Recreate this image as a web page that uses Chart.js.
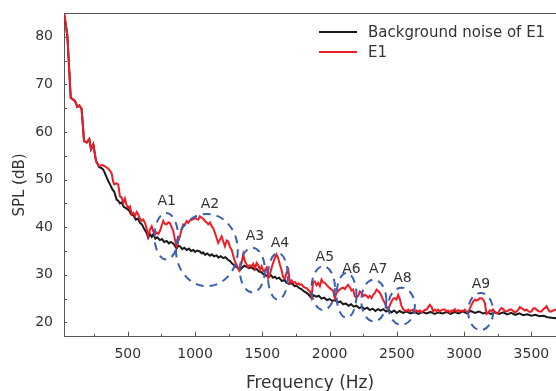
<!DOCTYPE html>
<html>
<head>
<meta charset="utf-8">
<script src="https://cdn.jsdelivr.net/npm/chart.js@4/dist/chart.umd.min.js"></script>
<style>
  html, body { margin: 0; padding: 0; background: #fff; }
  #wrap { width: 556px; height: 391px; }
</style>
</head>
<body>
<div id="wrap"><canvas id="splChart" width="556" height="391"></canvas></div>
<script>
'use strict';

// [Hz, dB]
const noisePts = [
  [26,85],[40,82.5],[51,80.2],[65,73],[76,67.2],[95,66.8],[108,66.5],[125,65.3],[140,65.6],[157,64.8],
  [175,58.1],[195,57.8],[214,58.5],[227,56.4],[244,57.4],[264,53.9],[288,52.6],[305,52.4],[318,52.1],[335,51.0],
  [355,49.7],[370,48.9],[385,48.0],[400,47.4],[417,45.8],[430,45.5],[442,45.0],[455,45.2],[470,44.3],[492,43.9],
  [510,43.5],[525,42.7],[541,42.5],[560,41.6],[575,41.8],[591,40.9],[605,40.6],[620,39.8],[640,38.8],[652,37.8],
  [665,38.6],[678,38.0],[689,38.5],[705,37.6],[720,37.9],[739,37.3],[755,37.5],[770,36.9],[789,37.1],[805,36.6],
  [820,36.9],[838,36.6],[850,36.1],[863,35.5],[875,36.1],[888,36.0],[905,35.4],[920,35.7],[938,35.2],[955,35.5],
  [970,35.0],[987,35.2],[1000,34.8],[1015,35.1],[1036,34.9],[1050,34.5],[1061,34.7],[1075,34.2],[1090,34.5],[1111,34.0],
  [1125,34.3],[1140,33.9],[1160,34.1],[1175,33.6],[1190,33.9],[1210,33.5],[1225,33.7],[1247,33.1],[1260,32.9],[1275,32.4],
  [1290,32.0],[1310,31.6],[1334,31.0],[1350,31.5],[1365,31.9],[1383,31.7],[1400,31.4],[1420,31.6],[1440,31.1],[1458,31.2],
  [1475,30.7],[1490,30.6],[1510,30.1],[1532,29.8],[1550,29.6],[1565,29.9],[1580,29.4],[1595,29.6],[1606,29.2],[1625,29.4],
  [1645,28.7],[1665,28.9],[1681,28.3],[1700,28.1],[1720,28.2],[1740,27.6],[1755,27.7],[1775,27.2],[1790,27.0],[1810,26.5],
  [1829,26.2],[1845,25.8],[1866,25.1],[1880,25.7],[1903,25.4],[1920,25.6],[1940,25.0],[1960,25.2],[1980,24.7],[2002,24.9],
  [2020,24.5],[2040,24.7],[2060,24.2],[2080,24.4],[2101,23.8],[2120,24.0],[2140,23.5],[2160,23.8],[2180,23.3],[2200,23.5],
  [2220,23.0],[2240,23.3],[2260,22.8],[2280,23.1],[2299,22.6],[2320,22.9],[2340,22.4],[2360,22.8],[2380,22.5],[2398,22.8],
  [2420,22.3],[2440,22.6],[2460,22.1],[2480,22.5],[2500,22.0],[2520,22.4],[2547,22.0],[2570,22.3],[2600,21.9],[2630,22.2],
  [2660,21.8],[2690,22.2],[2720,21.9],[2750,22.2],[2780,21.8],[2810,22.1],[2840,21.9],[2870,22.2],[2900,21.8],[2930,22.2],
  [2960,21.9],[2990,22.3],[3020,21.9],[3050,22.4],[3080,22.0],[3110,22.3],[3140,21.9],[3170,22.1],[3200,21.8],[3230,22.1],
  [3260,21.8],[3290,22.1],[3320,21.7],[3350,22.0],[3380,21.6],[3410,21.9],[3440,21.5],[3470,21.7],[3500,21.4],[3530,21.6],
  [3560,21.3],[3590,21.4],[3620,21.1],[3650,21.0],[3683,20.9]
];

const e1Pts = [
  [26,85],[40,82.5],[51,80.2],[65,73],[76,67.2],[95,66.8],[108,66.5],[125,65.3],[140,65.6],[157,64.8],
  [175,58.1],[195,57.8],[214,58.5],[227,56.4],[244,57.4],[264,53.9],[288,52.8],[305,53.0],[318,53.0],[340,52.6],
  [355,52.3],[370,51.8],[380,51.3],[392,49.5],[400,49.0],[415,49.2],[429,49.0],[442,46.5],[455,46.2],[467,45.1],
  [479,46.0],[492,44.6],[504,44.1],[516,44.4],[529,42.7],[541,43.0],[553,42.3],[566,43.2],[578,42.7],[591,41.8],
  [603,41.3],[615,41.6],[628,40.9],[640,39.8],[652,38.1],[665,39.5],[678,40.2],[690,39.1],[702,38.5],[715,38.9],
  [727,38.6],[739,39.2],[752,40.3],[764,41.3],[776,40.7],[789,40.6],[801,41.0],[813,40.9],[826,40.0],[838,39.2],
  [850,37.5],[863,36.0],[875,37.0],[888,38.1],[900,39.5],[912,40.6],[925,40.5],[938,41.3],[950,40.9],[962,41.4],
  [975,41.6],[987,41.6],[999,42.0],[1012,41.7],[1024,41.6],[1036,42.3],[1049,42.0],[1061,41.8],[1074,41.3],[1086,41.0],
  [1098,40.6],[1111,41.0],[1123,40.2],[1135,39.8],[1148,38.8],[1160,37.8],[1172,36.7],[1185,37.4],[1198,38.1],[1210,37.0],
  [1222,36.0],[1235,37.2],[1247,37.0],[1260,35.8],[1272,35.3],[1284,34.0],[1296,32.8],[1310,32.0],[1328,30.9],[1346,32.5],
  [1358,34.3],[1371,32.8],[1383,32.2],[1395,31.6],[1408,32.0],[1420,31.8],[1433,32.3],[1445,31.3],[1458,32.5],[1470,32.0],
  [1482,31.1],[1495,31.8],[1507,30.8],[1520,31.0],[1532,31.5],[1544,29.3],[1556,30.0],[1569,31.5],[1581,32.5],[1594,33.6],
  [1606,34.3],[1618,33.5],[1631,32.1],[1643,31.0],[1655,29.5],[1668,29.2],[1681,30.5],[1693,31.1],[1705,28.3],[1718,28.8],
  [1730,28.3],[1743,28.5],[1755,28.0],[1768,28.2],[1780,27.9],[1792,28.0],[1805,27.5],[1817,27.3],[1829,27.2],[1842,26.8],
  [1854,26.5],[1866,25.3],[1878,28.6],[1891,28.6],[1903,27.8],[1915,28.3],[1928,27.6],[1940,29.0],[1953,28.4],[1965,28.3],
  [1978,27.9],[1990,27.5],[2002,27.2],[2015,26.9],[2027,26.6],[2039,25.1],[2051,26.2],[2064,26.6],[2076,26.9],[2089,27.2],
  [2101,27.3],[2113,27.0],[2126,27.5],[2138,27.9],[2150,27.4],[2163,26.7],[2175,26.9],[2188,25.5],[2200,25.3],[2214,25.6],
  [2225,26.5],[2238,26.2],[2250,25.5],[2262,25.8],[2275,25.6],[2287,25.2],[2299,25.6],[2312,25.1],[2324,25.8],[2337,26.2],
  [2349,26.9],[2361,26.6],[2374,26.2],[2386,25.5],[2398,24.8],[2411,24.0],[2423,23.2],[2435,22.7],[2448,23.6],[2461,24.4],
  [2473,25.0],[2485,25.1],[2497,24.8],[2510,25.8],[2522,24.9],[2535,23.4],[2547,22.8],[2560,22.5],[2572,22.4],[2585,22.7],
  [2597,22.3],[2610,22.6],[2621,22.7],[2634,22.2],[2646,22.5],[2658,22.3],[2671,22.5],[2683,22.1],[2696,22.4],[2708,22.6],
  [2721,22.7],[2733,23.2],[2745,23.7],[2758,23.3],[2770,22.3],[2782,22.7],[2795,22.4],[2807,22.7],[2819,22.3],[2832,22.6],
  [2844,22.7],[2857,22.7],[2869,22.3],[2881,22.5],[2894,22.1],[2906,22.5],[2919,22.4],[2931,22.8],[2943,22.3],[2956,22.6],
  [2968,22.3],[2980,22.5],[2993,22.4],[3005,22.7],[3017,22.3],[3030,22.0],[3042,22.9],[3055,23.7],[3067,24.4],[3080,24.8],
  [3092,24.6],[3105,24.8],[3117,25.1],[3130,25.1],[3141,24.8],[3154,24.1],[3166,21.8],[3178,22.0],[3191,22.5],[3203,22.4],
  [3215,22.7],[3228,22.2],[3240,21.9],[3252,22.0],[3265,22.6],[3278,23.0],[3290,22.8],[3303,22.4],[3315,22.3],[3327,22.5],
  [3340,22.7],[3352,22.7],[3364,22.4],[3377,22.1],[3389,22.3],[3401,22.6],[3414,23.2],[3426,23.0],[3438,22.8],[3451,22.5],
  [3463,22.7],[3476,22.4],[3488,22.2],[3501,22.3],[3513,22.9],[3525,23.0],[3538,22.7],[3550,22.4],[3562,22.3],[3575,22.3],
  [3587,22.7],[3600,23.0],[3612,23.4],[3624,22.8],[3637,22.3],[3649,22.3],[3661,22.5],[3683,22.7]
];

const xTicks = [500, 1000, 1500, 2000, 2500, 3000, 3500];
const yTicks = [20, 30, 40, 50, 60, 70, 80];

// dashed ellipses round the peaks (centre Hz/dB, half widths in Hz/dB)
const markNames = ['A1', 'A2', 'A3', 'A4', 'A5', 'A6', 'A7', 'A8', 'A9'];
const markHz    = [786, 1088, 1426, 1616, 1953, 2126, 2329, 2535, 3123];
const markDb    = [38.1, 35.2, 31.0, 29.7, 27.2, 25.7, 24.6, 23.4, 22.3];
const markRxHz  = [87, 230, 93, 74, 87, 74, 93, 99, 93];
const markRyDb  = [4.9, 7.6, 4.7, 4.9, 4.6, 4.7, 4.4, 3.9, 3.9];
const labelHz   = [789, 1111, 1445, 1631, 1965, 2163, 2361, 2542, 3125];
const labelDb   = [45.5, 44.7, 38.1, 36.7, 33.6, 31.1, 31.1, 29.3, 28.1];

const FONT = '"DejaVu Sans", Arial, sans-serif';
const TEXT = '#333';
const AXIS = '#555';

const decorPlugin = {
  id: 'decor',
  afterDatasetsDraw(chart) {
    const { ctx, chartArea: a, scales: { x, y } } = chart;
    ctx.save();

    // top frame
    ctx.strokeStyle = AXIS; ctx.lineWidth = 1;
    ctx.beginPath(); ctx.moveTo(a.left, a.top + 0.5); ctx.lineTo(a.right, a.top + 0.5); ctx.stroke();

    // inward ticks
    ctx.beginPath();
    for (let v = 250; v <= 3500; v += 250) {
      const px = Math.round(x.getPixelForValue(v)) + 0.5;
      const len = v % 500 === 0 ? 5 : 3;
      ctx.moveTo(px, a.bottom); ctx.lineTo(px, a.bottom - len);
    }
    for (let v = 20; v <= 85; v += 5) {
      const py = Math.round(y.getPixelForValue(v)) + 0.5;
      ctx.moveTo(a.left, py); ctx.lineTo(a.left + 3, py);
    }
    ctx.stroke();

    // A1..A9 ellipses
    ctx.strokeStyle = '#3a5fb3'; ctx.lineWidth = 2; ctx.setLineDash([8, 6]);
    markNames.forEach((n, i) => {
      const cx = x.getPixelForValue(markHz[i]);
      const cy = y.getPixelForValue(markDb[i]);
      const rx = x.getPixelForValue(markHz[i] + markRxHz[i]) - cx;
      const ry = cy - y.getPixelForValue(markDb[i] + markRyDb[i]);
      ctx.beginPath(); ctx.ellipse(cx, cy, rx, ry, 0, 0, Math.PI * 2); ctx.stroke();
    });
    ctx.setLineDash([]);

    ctx.fillStyle = TEXT;
    ctx.font = '14px ' + FONT;
    ctx.textAlign = 'center'; ctx.textBaseline = 'middle';
    markNames.forEach((n, i) => {
      ctx.fillText(n, x.getPixelForValue(labelHz[i]), y.getPixelForValue(labelDb[i]));
    });

    // legend
    const items = chart.data.datasets.map(d => ({ label: d.label, color: d.borderColor }));
    ctx.textAlign = 'left';
    ctx.font = '15px ' + FONT;
    items.forEach((it, i) => {
      const ly = 32 + i * 20;
      ctx.strokeStyle = it.color; ctx.lineWidth = 2;
      ctx.beginPath(); ctx.moveTo(319, ly); ctx.lineTo(357, ly); ctx.stroke();
      ctx.fillText(it.label, 368, ly + 1);
    });

    // axis titles
    ctx.font = '17px ' + FONT;
    ctx.textAlign = 'center';
    ctx.fillText('Frequency (Hz)', (a.left + a.right) / 2, 384);
    ctx.save();
    ctx.translate(20, 185); ctx.rotate(-Math.PI / 2);
    ctx.font = '15px ' + FONT;
    ctx.fillText('SPL (dB)', 0, 0);
    ctx.restore();

    ctx.restore();
  },
};

new Chart(document.getElementById('splChart'), {
  type: 'line',
  data: {
    datasets: [{
      label: 'Background noise of E1',
      data: noisePts.map(p => ({ x: p[0], y: p[1] })),
      borderColor: '#1a1a1a',
      borderWidth: 2,
      pointRadius: 0,
      tension: 0,
      order: 2,
    }, {
      label: 'E1',
      data: e1Pts.map(p => ({ x: p[0], y: p[1] })),
      borderColor: '#ee1c24',
      borderWidth: 2,
      pointRadius: 0,
      tension: 0,
      order: 1,
    }],
  },
  options: {
    responsive: false,
    animation: false,
    layout: { padding: { top: 13, right: 0, left: 0, bottom: 0 } },
    plugins: { legend: { display: false }, tooltip: { enabled: false } },
    scales: {
      x: {
        type: 'linear', min: 26, max: 3683,
        afterBuildTicks: s => { s.ticks = xTicks.map(v => ({ value: v })); },
        afterFit: s => { s.height = 54.3; s.paddingLeft = 0; s.paddingRight = 0; },
        grid: { drawOnChartArea: false, drawTicks: false },
        border: { display: true, color: AXIS, width: 1 },
        ticks: { color: TEXT, font: { family: FONT, size: 14 }, padding: 9, maxRotation: 0,
                 callback: v => String(v) },
      },
      y: {
        min: 17, max: 85,
        afterBuildTicks: s => { s.ticks = yTicks.map(v => ({ value: v })); },
        afterFit: s => { s.width = 64; s.paddingTop = 0; s.paddingBottom = 0; },
        grid: { drawOnChartArea: false, drawTicks: false },
        border: { display: true, color: AXIS, width: 1 },
        ticks: { color: TEXT, font: { family: FONT, size: 14 }, padding: 11,
                 callback: v => String(v) },
      },
    },
  },
  plugins: [decorPlugin],
});
</script>
</body>
</html>
